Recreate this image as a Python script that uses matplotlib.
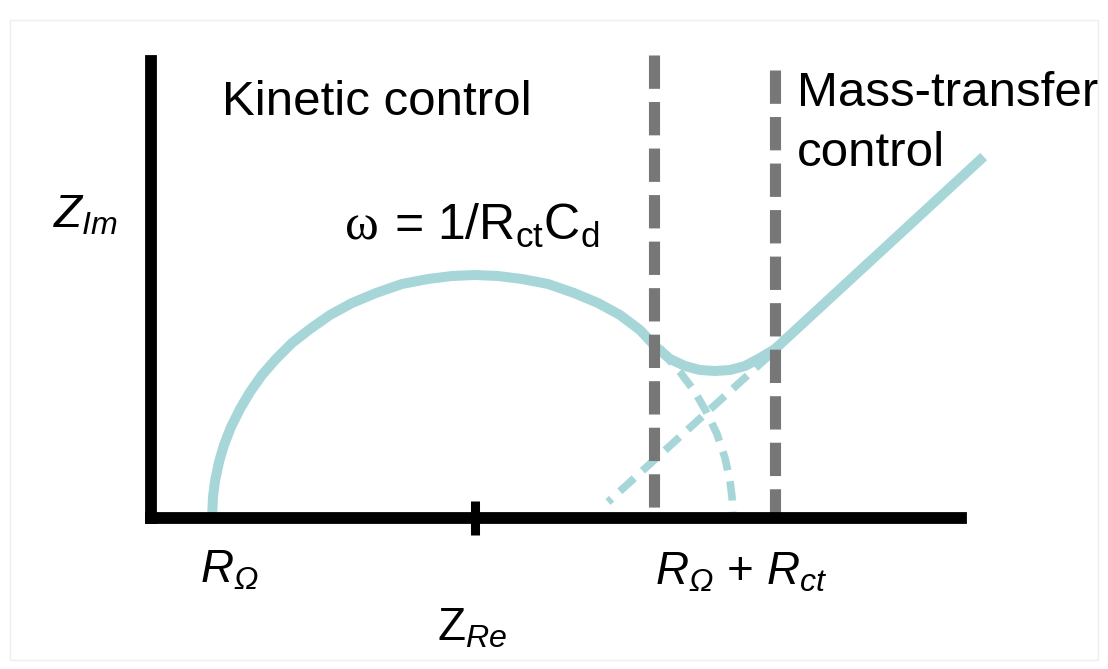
import matplotlib
matplotlib.use("Agg")
import matplotlib.pyplot as plt
from matplotlib.patches import Rectangle

plt.rcParams["font.family"] = ["Liberation Sans", "DejaVu Sans"]
plt.rcParams["mathtext.fontset"] = "custom"
plt.rcParams["mathtext.rm"] = "Liberation Sans"
plt.rcParams["mathtext.it"] = "Liberation Sans:italic"
plt.rcParams["mathtext.bf"] = "Liberation Sans:bold"
# italic greek subscript (mathtext keeps capital greek upright in 'it')
plt.rcParams["mathtext.sf"] = "Liberation Sans:italic"
plt.rcParams["lines.scale_dashes"] = False

# Schematic Nyquist plot (arbitrary units)
x_max = 8.10
y_max = 4.57
semi_center = 3.24

# measured impedance (semicircle + Warburg tail)
curve_re = [0.61, 0.62, 0.64, 0.68, 0.73, 0.80, 0.89, 0.99, 1.11, 1.25, 1.41, 1.59,
            1.79, 2.01, 2.25, 2.51, 2.77, 3.01, 3.24, 3.47, 3.71, 3.97, 4.23, 4.47,
            4.69, 4.89, 5.04, 5.19, 5.34, 5.49, 5.64, 5.79, 5.94, 6.09, 6.24, 8.29]
curve_im = [0.00, 0.21, 0.37, 0.56, 0.73, 0.91, 1.09, 1.26, 1.43, 1.59, 1.75, 1.89,
            2.03, 2.15, 2.25, 2.34, 2.39, 2.42, 2.43, 2.42, 2.39, 2.34, 2.25, 2.15,
            2.03, 1.88, 1.72, 1.59, 1.52, 1.48, 1.47, 1.48, 1.52, 1.60, 1.69, 3.58]

# extrapolated end of the kinetic semicircle
arc_re = [5.09, 5.14, 5.29, 5.44, 5.56, 5.66, 5.74, 5.79, 5.81, 5.82]
arc_im = [1.70, 1.63, 1.46, 1.26, 1.05, 0.84, 0.60, 0.37, 0.21, 0.00]

# extrapolated Warburg line
warburg_re = [4.57, 6.19]
warburg_im = [0.16, 1.63]

# region boundaries
boundary_re = [5.03, 6.24]
boundary_top = [4.63, 4.48]

teal = "#a7d6d9"
grey = "#777777"

fig = plt.figure(figsize=(11.08, 6.69), dpi=100)
ax = fig.add_axes([151 / 1108, 151 / 669, 810 / 1108, 457 / 669])
ax.set_xlim(0, x_max)
ax.set_ylim(0, y_max)

ax.plot(arc_re, arc_im, color=teal, lw=5.5, ls=(0, (14, 8)), clip_on=False, zorder=2)
ax.plot(warburg_re[::-1], warburg_im[::-1], color=teal, lw=5.5, ls=(0, (14, 8)),
        clip_on=False, zorder=2)
ax.plot(curve_re, curve_im, color=teal, lw=7.2, solid_joinstyle="round",
        clip_on=False, zorder=3)

for xb, top in zip(boundary_re, boundary_top):
    ax.plot([xb, xb], [top, 0], color=grey, lw=8, ls=(0, (24, 9.5)),
            dash_capstyle="butt", clip_on=False, zorder=4)

for side in ["top", "right"]:
    ax.spines[side].set_visible(False)
for side in ["left", "bottom"]:
    ax.spines[side].set_linewidth(8.5)
    ax.spines[side].set_color("black")
    ax.spines[side].set_zorder(5)
ax.set_yticks([])
ax.set_xticks([semi_center])
ax.set_xticklabels([])
ax.tick_params(axis="x", direction="inout", length=25, width=6.5, color="black")

# annotations
ax.text(0.71, 4.03, "Kinetic control", fontsize=35.5, va="baseline", clip_on=False)
ax.text(6.46, 4.12, "Mass-transfer", fontsize=35.5, va="baseline", clip_on=False)
ax.text(6.46, 3.52, "control", fontsize=35.5, va="baseline", clip_on=False)
ax.text(1.94, 2.78, "\u03c9", fontsize=37, va="baseline", family="Liberation Serif",
        clip_on=False)
ax.text(2.43, 2.78, r"= 1/R$_\mathrm{ct}$C$_\mathrm{d}$", fontsize=36, va="baseline",
        clip_on=False)

ax.text(-0.98, 2.90, r"$Z_{Im}$", fontsize=33, va="baseline", clip_on=False)
ax.text(2.86, -1.22, r"Z$_{Re}$", fontsize=33, va="baseline", clip_on=False)
ax.text(0.49, -0.65, r"$R_{\mathsf{Ω}}$", fontsize=33, va="baseline", clip_on=False)
ax.text(5.04, -0.67, r"$R_{\mathsf{Ω}}$ + $R_{ct}$", fontsize=33, va="baseline",
        clip_on=False)

# faint frame around the picture
fig.patches.append(Rectangle((10 / 1108, 9 / 669), 1088 / 1108, 640 / 669,
                             transform=fig.transFigure, fill=False,
                             ec="#eeeeee", lw=1))

fig.savefig("out.png", dpi=100)
